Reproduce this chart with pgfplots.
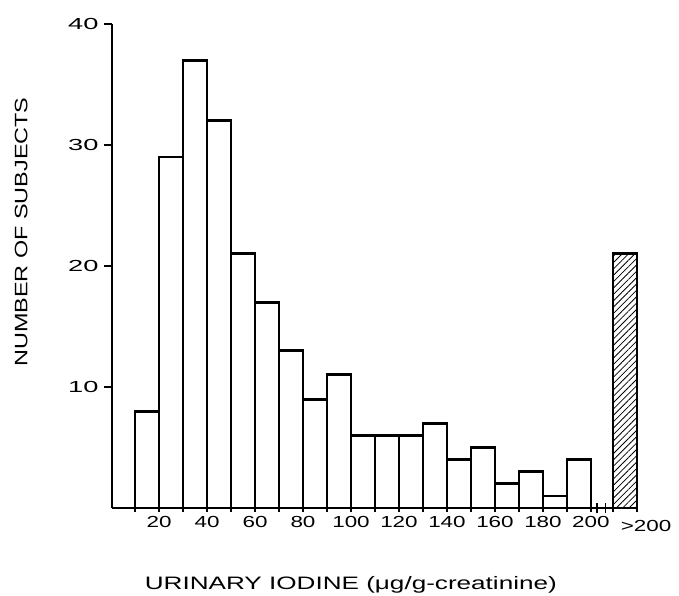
\documentclass[border=0pt]{standalone}
\usepackage{pgfplots}
\pgfplotsset{compat=1.18}
\usepackage{fontspec}
\setmainfont{Liberation Sans}
\newfontfamily\tickfont{Liberation Sans}[FakeStretch=1.4]
\newfontfamily\ytickfont{Liberation Sans}[FakeStretch=1.7]
\newfontfamily\xlabfont{Liberation Sans}[FakeStretch=1.45]
\newfontfamily\ylabfont{Liberation Sans}[FakeStretch=1.3]
\usetikzlibrary{patterns.meta}
\begin{document}
\begin{tikzpicture}
\useasboundingbox (-112pt,-88pt) rectangle (567pt,508pt);
\begin{axis}[
  at={(0,0)}, anchor=south west,
  scale only axis, width=525pt, height=484pt,
  xmin=0.4, xmax=219.2, ymin=0, ymax=40,
  axis lines*=left,
  axis line style={line width=1.8pt},
  clip=false,
  tick style={line width=1.4pt, black},
  xtick={20,40,60,80,100,120,140,160,180,200},
  minor xtick={10,30,50,70,90,110,130,150,170,190,209.2,219.2},
  xtick align=center,
  ytick={10,20,30,40},
  ytick align=outside,
  major tick length=8pt, minor tick length=8pt,
  /pgf/number format/assume math mode=true,
  x tick label style={yshift=-1pt, font=\tickfont\fontsize{16}{19}\selectfont},
  y tick label style={xshift=-2pt, font=\ytickfont\fontsize{16}{19}\selectfont},
  xlabel={URINARY IODINE (μg/g-creatinine)},
  ylabel={NUMBER OF SUBJECTS},
  x label style={font=\xlabfont\fontsize{18}{22}\selectfont, at={(axis description cs:0.455,-0.158)}, anchor=center},
  y label style={font=\ylabfont\fontsize{18}{22}\selectfont, at={(axis description cs:-0.173,0.570)}, anchor=center},
]
\addplot[ybar interval, fill=white, draw=black, line width=2.8pt] coordinates {
(10,8) (20,29) (30,37) (40,32) (50,21) (60,17) (70,13) (80,9) (90,11)
(100,6) (110,6) (120,6) (130,7) (140,4) (150,5) (160,2) (170,3) (180,1)
(190,4) (200,4)};
\addplot[ybar interval, draw=black, line width=2.8pt,
  pattern={Lines[angle=45,distance=4.5pt,line width=0.8pt]}] coordinates {
(209.2,21) (219.2,21)};
\draw[line width=1.4pt] (axis cs:202.5,-0.45) -- (axis cs:202.5,0.45);
\draw[line width=1.4pt] (axis cs:206,-0.45) -- (axis cs:206,0.45);
\node[font=\tickfont\fontsize{16}{19}\selectfont, anchor=north, inner sep=0pt]
  at ([yshift=-12pt]axis cs:223,0) {>200};
\end{axis}
\end{tikzpicture}
\end{document}
